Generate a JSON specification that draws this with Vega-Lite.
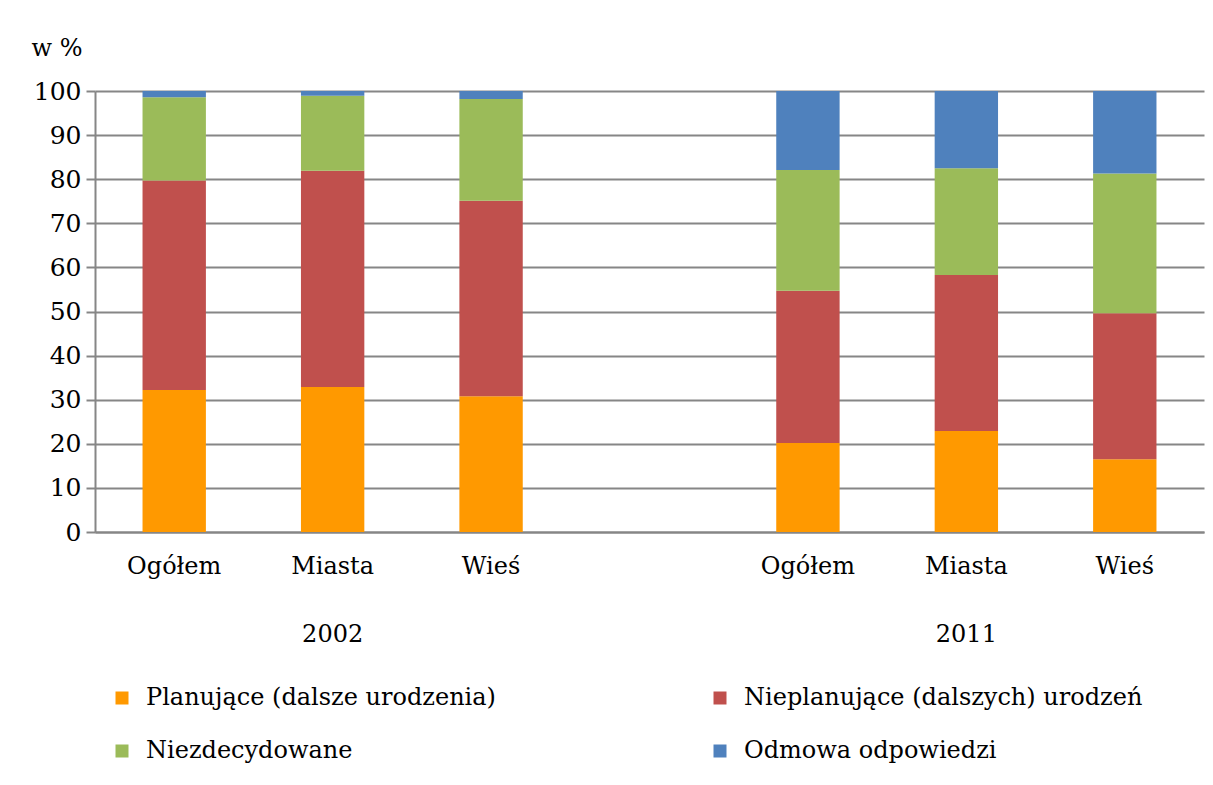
{
  "$schema": "https://vega.github.io/schema/vega-lite/v6.json",
  "width": 1109,
  "height": 441,
  "autosize": {"type": "none"},
  "padding": {"left": 95, "top": 91, "right": 9, "bottom": 253},
  "background": "white",
  "config": {
    "font": "DejaVu Serif",
    "view": {"stroke": null}
  },
  "data": {
    "values": [
      {"grupa": "2002|Ogółem", "seria": "Planujące (dalsze urodzenia)", "wartosc": 32.2},
      {"grupa": "2002|Ogółem", "seria": "Nieplanujące (dalszych) urodzeń", "wartosc": 47.5},
      {"grupa": "2002|Ogółem", "seria": "Niezdecydowane", "wartosc": 18.9},
      {"grupa": "2002|Ogółem", "seria": "Odmowa odpowiedzi", "wartosc": 1.4},
      {"grupa": "2002|Miasta", "seria": "Planujące (dalsze urodzenia)", "wartosc": 32.9},
      {"grupa": "2002|Miasta", "seria": "Nieplanujące (dalszych) urodzeń", "wartosc": 49.0},
      {"grupa": "2002|Miasta", "seria": "Niezdecydowane", "wartosc": 17.0},
      {"grupa": "2002|Miasta", "seria": "Odmowa odpowiedzi", "wartosc": 1.1},
      {"grupa": "2002|Wieś", "seria": "Planujące (dalsze urodzenia)", "wartosc": 30.8},
      {"grupa": "2002|Wieś", "seria": "Nieplanujące (dalszych) urodzeń", "wartosc": 44.3},
      {"grupa": "2002|Wieś", "seria": "Niezdecydowane", "wartosc": 23.1},
      {"grupa": "2002|Wieś", "seria": "Odmowa odpowiedzi", "wartosc": 1.8},
      {"grupa": "2011|Ogółem", "seria": "Planujące (dalsze urodzenia)", "wartosc": 20.2},
      {"grupa": "2011|Ogółem", "seria": "Nieplanujące (dalszych) urodzeń", "wartosc": 34.5},
      {"grupa": "2011|Ogółem", "seria": "Niezdecydowane", "wartosc": 27.4},
      {"grupa": "2011|Ogółem", "seria": "Odmowa odpowiedzi", "wartosc": 17.9},
      {"grupa": "2011|Miasta", "seria": "Planujące (dalsze urodzenia)", "wartosc": 22.9},
      {"grupa": "2011|Miasta", "seria": "Nieplanujące (dalszych) urodzeń", "wartosc": 35.4},
      {"grupa": "2011|Miasta", "seria": "Niezdecydowane", "wartosc": 24.2},
      {"grupa": "2011|Miasta", "seria": "Odmowa odpowiedzi", "wartosc": 17.5},
      {"grupa": "2011|Wieś", "seria": "Planujące (dalsze urodzenia)", "wartosc": 16.5},
      {"grupa": "2011|Wieś", "seria": "Nieplanujące (dalszych) urodzeń", "wartosc": 33.1},
      {"grupa": "2011|Wieś", "seria": "Niezdecydowane", "wartosc": 31.7},
      {"grupa": "2011|Wieś", "seria": "Odmowa odpowiedzi", "wartosc": 18.7}
    ]
  },
  "transform": [
    {"calculate": "indexof(['Planujące (dalsze urodzenia)', 'Nieplanujące (dalszych) urodzeń', 'Niezdecydowane', 'Odmowa odpowiedzi'], datum.seria)", "as": "kolejnosc"}
  ],
  "mark": {"type": "bar", "stroke": null},
  "encoding": {
    "x": {
      "field": "grupa",
      "type": "nominal",
      "scale": {
        "domain": ["2002|Ogółem", "2002|Miasta", "2002|Wieś", "gap", "2011|Ogółem", "2011|Miasta", "2011|Wieś"],
        "paddingInner": 0.6,
        "paddingOuter": 0.3
      },
      "axis": {
        "title": null,
        "labelFont": "DejaVu Serif",
        "labelColor": "black",
        "labelAngle": 0,
        "labelFontSize": 24,
        "labelPadding": 22,
        "labelLineHeight": 68,
        "labelBaseline": "top",
        "ticks": false,
        "domainColor": "#868686",
        "domainWidth": 2,
        "labelExpr": "datum.value == 'gap' ? '' : (split(datum.value, '|')[1] == 'Miasta' ? [split(datum.value, '|')[1], split(datum.value, '|')[0]] : split(datum.value, '|')[1])"
      }
    },
    "y": {
      "field": "wartosc",
      "type": "quantitative",
      "stack": "zero",
      "scale": {"domain": [0, 100], "nice": false},
      "axis": {
        "title": "w %",
        "titleFont": "DejaVu Serif",
        "titleColor": "black",
        "titleAngle": 0,
        "titleFontSize": 24,
        "titleFontWeight": "normal",
        "titleAlign": "left",
        "titleBaseline": "alphabetic",
        "titleX": -64,
        "titleY": -36,
        "values": [0, 10, 20, 30, 40, 50, 60, 70, 80, 90, 100],
        "labelFont": "DejaVu Serif",
        "labelColor": "black",
        "labelFontSize": 25,
        "labelPadding": 5,
        "tickSize": 9,
        "tickColor": "#868686",
        "tickWidth": 2,
        "domainColor": "#868686",
        "domainWidth": 2,
        "gridColor": "#868686",
        "gridWidth": 2,
        "grid": true
      }
    },
    "color": {
      "field": "seria",
      "type": "nominal",
      "scale": {
        "domain": ["Planujące (dalsze urodzenia)", "Nieplanujące (dalszych) urodzeń", "Niezdecydowane", "Odmowa odpowiedzi"],
        "range": ["#FF9900", "#C0504D", "#9BBB59", "#4F81BD"]
      },
      "legend": {
        "title": null,
        "orient": "none",
        "legendX": 15,
        "legendY": 595,
        "direction": "horizontal",
        "columns": 2,
        "columnPadding": 212,
        "rowPadding": 29,
        "symbolType": "square",
        "symbolSize": 169,
        "symbolStrokeWidth": 0,
        "symbolOpacity": 1,
        "labelFont": "DejaVu Serif",
        "labelFontSize": 24,
        "labelOffset": 12,
        "labelColor": "black",
        "labelLimit": 600
      }
    },
    "order": {"field": "kolejnosc", "type": "quantitative", "sort": "ascending"}
  }
}
